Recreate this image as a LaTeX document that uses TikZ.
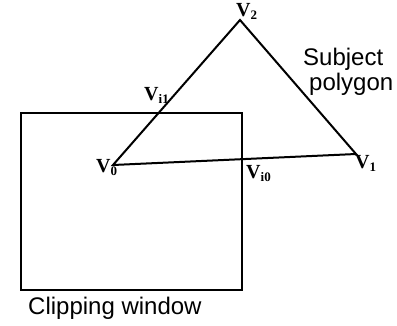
\documentclass[tikz,border=0pt]{standalone}
\usepackage{fontspec}
\setmainfont{Liberation Serif}
\newfontfamily\labelsans{Liberation Sans}
\newcommand{\vlab}[2]{\bfseries V\raisebox{-3.5pt}{\fontsize{13}{13}\selectfont #2}}
\begin{document}
\begin{tikzpicture}[x=1pt,y=-1pt,
  edge/.style={line width=2pt,line join=miter},
  vlabel/.style={inner sep=0pt,font=\fontsize{20}{20}\selectfont},
  caption/.style={inner sep=0pt,font=\labelsans\fontsize{24}{26}\selectfont,align=left}]
\useasboundingbox (0,0) rectangle (397,325);
% clipping window
\coordinate (wtl) at (21,113);
\coordinate (wbr) at (242,290);
\draw[edge] (wtl) rectangle (wbr);
% subject polygon
\coordinate (v0) at (113,165);
\coordinate (v1) at (356,154);
\coordinate (v2) at (240,20);
\draw[edge] (v0) -- (v1) -- (v2) -- cycle;
% labels
\node[vlabel,anchor=base west] (l0) at (96,172) {\vlab{V}{0}};
\node[vlabel,anchor=base west] (l1) at (355,168) {\vlab{V}{1}};
\node[vlabel,anchor=base west] (l2) at (236,16) {\vlab{V}{2}};
\node[vlabel,anchor=base west] (li1) at (144,100) {\vlab{V}{i1}};
\node[vlabel,anchor=base west] (li0) at (246,178) {\vlab{V}{i0}};
\node[caption,anchor=base west] (subj) at (303,65) {Subject};
\node[caption,anchor=base west] (poly) at (309,90) {polygon};
\node[caption,anchor=base west] (clip) at (28,314) {Clipping window};
\end{tikzpicture}
\end{document}
